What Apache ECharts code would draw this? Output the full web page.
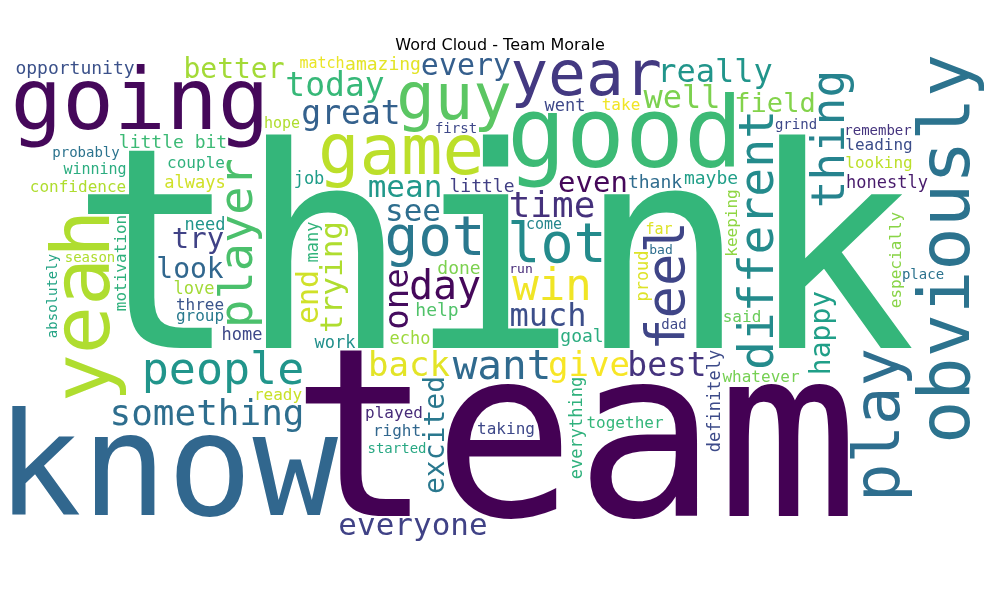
<!DOCTYPE html>
<html>
<head>
<meta charset="utf-8">
<script src="https://cdn.jsdelivr.net/npm/echarts@6/dist/echarts.min.js"></script>
<style>
  html, body { margin: 0; padding: 0; background: #fff; }
  #chart { width: 1000px; height: 600px; }
</style>
</head>
<body>
<div id="chart"></div>
<script>
// words and their relative weight (largest = 100)
const words = [
  'think', 'team', 'know', 'good', 'going', 'yeah', 'obviously', 'game', 'guy', 'play',
  'year', 'got', 'lot', 'feel', 'different', 'player', 'thing', 'people', 'win', 'want',
  'day', 'something', 'time', 'one', 'back', 'give', 'great', 'best', 'today', 'much',
  'really', 'well', 'everyone', 'trying', 'mean', 'see', 'every', 'end', 'try', 'even',
  'excited', 'look', 'better', 'happy', 'field', 'opportunity', 'little', 'help', 'thank', 'done',
  'maybe', 'amazing', 'goal', 'little bit', 'always', 'everything', 'definitely', 'echo', 'work', 'need',
  'job', 'home', 'love', 'honestly', 'went', 'proud', 'many', 'especially', 'three', 'whatever',
  'keeping', 'confidence', 'couple', 'played', 'said', 'motivation', 'together', 'taking', 'looking', 'leading',
  'take', 'group', 'ready', 'right', 'winning', 'hope', 'match', 'come', 'far', 'grind',
  'first', 'started', 'place', 'dad', 'probably', 'season', 'absolutely', 'remember', 'run', 'bad'
];
const scores = [
  100, 84, 50.5, 35, 34, 28.5, 25.6, 24.6, 22.8, 22.8,
  22.4, 20, 19.6, 19.2, 17.1, 16.7, 16.4, 16, 15.7, 14.6,
  14.2, 13.7, 12.8, 12.1, 12.1, 12.1, 11.7, 11.7, 11.7, 11.4,
  11.4, 11.4, 11, 11, 11, 11, 10.7, 10.7, 10.3, 10.3,
  10, 10, 10, 10, 9.6, 6.4, 6.4, 6.4, 6.4, 6.4,
  6.4, 6.4, 6.3, 6.3, 6.2, 6.2, 6.2, 6, 6, 6,
  6, 5.9, 5.9, 5.9, 5.9, 5.9, 5.9, 5.8, 5.7, 5.7,
  5.7, 5.7, 5.7, 5.7, 5.7, 5.7, 5.6, 5.6, 5.6, 5.6,
  5.6, 5.6, 5.6, 5.6, 5.3, 5.3, 5.3, 5.2, 5.2, 5.1,
  5.1, 5, 5, 5, 5, 5, 5, 4.9, 4.8, 4.8
];

// style: colour position on viridis for each word, and which words run vertically
const tones = [
  0.66, 0.0, 0.33, 0.68, 0.02, 0.88, 0.38, 0.9, 0.74, 0.36,
  0.17, 0.4, 0.48, 0.21, 0.48, 0.71, 0.45, 0.52, 0.98, 0.34,
  0.02, 0.36, 0.14, 0.03, 0.96, 0.99, 0.31, 0.15, 0.67, 0.24,
  0.52, 0.8, 0.2, 0.88, 0.53, 0.36, 0.3, 0.93, 0.2, 0.02,
  0.4, 0.33, 0.86, 0.56, 0.81, 0.25, 0.19, 0.72, 0.35, 0.8,
  0.56, 0.96, 0.62, 0.68, 0.93, 0.64, 0.23, 0.85, 0.5, 0.52,
  0.55, 0.22, 0.86, 0.07, 0.22, 0.95, 0.65, 0.82, 0.26, 0.79,
  0.83, 0.88, 0.64, 0.12, 0.77, 0.64, 0.66, 0.22, 0.9, 0.24,
  0.98, 0.41, 0.92, 0.33, 0.62, 0.88, 0.97, 0.46, 0.95, 0.22,
  0.22, 0.6, 0.38, 0.22, 0.38, 0.88, 0.58, 0.15, 0.12, 0.36
];
const verticalWords = ['yeah', 'play', 'feel', 'player', 'thing', 'people', 'one', 'trying', 'end',
  'excited', 'happy', 'everything', 'definitely', 'proud', 'many', 'especially', 'keeping',
  'motivation', 'absolutely'];

const VIRIDIS = ['#440154', '#482878', '#3e4989', '#31688e', '#26828e',
  '#1f9e89', '#35b779', '#6ece58', '#b5de2b', '#fde725'];
function viridis(t) {
  const s = Math.max(0, Math.min(1, t)) * (VIRIDIS.length - 1);
  const i = Math.min(Math.floor(s), VIRIDIS.length - 2);
  const f = s - i;
  const a = VIRIDIS[i], b = VIRIDIS[i + 1];
  let out = '#';
  for (let k = 1; k < 7; k += 2) {
    const va = parseInt(a.substr(k, 2), 16), vb = parseInt(b.substr(k, 2), 16);
    out += Math.round(va + (vb - va) * f).toString(16).padStart(2, '0');
  }
  return out;
}

// ---- layout (greedy, pixel occupancy, nearest to a focus point) ----
const W = 976, H = 488, MARGIN = 2, STEP = 2, SIZE_SCALE = 2.81, LOOKAHEAD = 3;
const FOCUS_X = 0.5 * W, FOCUS_Y = 0.38 * H;
const FONT = '"DejaVu Sans Mono"';
const occ = new Uint8Array(W * H);
const integ = new Int32Array((W + 1) * (H + 1));

function rebuild() {
  for (let y = 0; y < H; y++) {
    let row = 0;
    const o = y * W, a = (y + 1) * (W + 1), b = y * (W + 1);
    for (let x = 0; x < W; x++) {
      row += occ[o + x];
      integ[a + x + 1] = integ[b + x + 1] + row;
    }
  }
}
function sumRect(x0, y0, x1, y1) {
  if (x0 < 0) x0 = 0; if (y0 < 0) y0 = 0;
  if (x1 > W) x1 = W; if (y1 > H) y1 = H;
  const w1 = W + 1;
  return integ[y1 * w1 + x1] - integ[y0 * w1 + x1] - integ[y1 * w1 + x0] + integ[y0 * w1 + x0];
}

const maskCache = {};
function makeMask(text, fs, vertical) {
  const key = text + '|' + fs + '|' + vertical;
  if (maskCache[key]) return maskCache[key];
  const len = Math.ceil(fs * 0.7 * text.length + fs * 0.6) + 8;
  const thick = Math.ceil(fs * 1.5) + 8;
  const cw = vertical ? thick : len, ch = vertical ? len : thick;
  const c = document.createElement('canvas');
  c.width = cw; c.height = ch;
  const ctx = c.getContext('2d', { willReadFrequently: true });
  const ox = Math.floor(cw / 2), oy = Math.floor(ch / 2);
  ctx.translate(ox, oy);
  if (vertical) ctx.rotate(-Math.PI / 2);
  ctx.font = fs + 'px ' + FONT;
  ctx.textAlign = 'center';
  ctx.textBaseline = 'middle';
  ctx.fillStyle = '#000';
  ctx.fillText(text, 0, 0);
  const d = ctx.getImageData(0, 0, cw, ch).data;
  let x0 = cw, y0 = ch, x1 = -1, y1 = -1;
  for (let y = 0; y < ch; y++) {
    for (let x = 0; x < cw; x++) {
      if (d[(y * cw + x) * 4 + 3] > 0) {
        if (x < x0) x0 = x; if (x > x1) x1 = x;
        if (y < y0) y0 = y; if (y > y1) y1 = y;
      }
    }
  }
  const w = x1 - x0 + 1, h = y1 - y0 + 1;
  const bits = new Uint8Array(w * h);
  const li = new Int32Array((w + 1) * (h + 1));
  for (let y = 0; y < h; y++) {
    let row = 0;
    for (let x = 0; x < w; x++) {
      const v = d[((y + y0) * cw + x + x0) * 4 + 3] > 0 ? 1 : 0;
      bits[y * w + x] = v;
      row += v;
      li[(y + 1) * (w + 1) + x + 1] = li[y * (w + 1) + x + 1] + row;
    }
  }
  const m = { w, h, bits, li, ax: ox - x0, ay: oy - y0, fs, vertical };
  maskCache[key] = m;
  return m;
}

function fits(m, x, y) {
  return sumRect(x - MARGIN, y - MARGIN, x + m.w + MARGIN, y + m.h + MARGIN) === 0;
}
function freeList(m) {
  const out = [];
  for (let y = 0; y + m.h <= H; y += STEP) {
    for (let x = W - m.w; x >= 0; x -= STEP) {
      if (fits(m, x, y)) out.push(x, y);
    }
  }
  return out;
}
// does placing m at (px,py) still leave a spot for a following word?
function leavesRoom(m, px, py, nm, nFree) {
  const w1 = m.w + 1;
  for (let k = 0; k < nFree.length; k += 2) {
    const qx = nFree[k], qy = nFree[k + 1];
    let ix0 = Math.max(qx - MARGIN, px), iy0 = Math.max(qy - MARGIN, py);
    let ix1 = Math.min(qx + nm.w + MARGIN, px + m.w), iy1 = Math.min(qy + nm.h + MARGIN, py + m.h);
    if (ix0 >= ix1 || iy0 >= iy1) return true;
    ix0 -= px; ix1 -= px; iy0 -= py; iy1 -= py;
    const s = m.li[iy1 * w1 + ix1] - m.li[iy0 * w1 + ix1] - m.li[iy1 * w1 + ix0] + m.li[iy0 * w1 + ix0];
    if (s === 0) return true;
  }
  return false;
}
function place(m, nextMasks) {
  const free = freeList(m);
  const n = free.length / 2;
  if (!n) return null;
  const cost = new Float64Array(n);
  let best = 0;
  for (let i = 0; i < n; i++) {
    const dx = free[2 * i] + m.w / 2 - FOCUS_X;
    const dy = free[2 * i + 1] + m.h / 2 - FOCUS_Y;
    cost[i] = dx * dx + 4 * dy * dy;
    if (cost[i] < cost[best]) best = i;
  }
  const pick = i => [free[2 * i], free[2 * i + 1]];
  const checks = nextMasks.map(nm => ({ nm, nFree: freeList(nm) })).filter(c => c.nFree.length);
  if (!checks.length) return pick(best);
  const ok = i => checks.every(c => leavesRoom(m, free[2 * i], free[2 * i + 1], c.nm, c.nFree));
  if (ok(best)) return pick(best);
  const order = Array.from({ length: n }, (_, i) => i).sort((a, b) => cost[a] - cost[b]);
  const per = checks.reduce((s, c) => s + c.nFree.length / 2, 0);
  let budget = 3e8;
  for (const i of order) {
    if (ok(i)) return pick(i);
    budget -= per;
    if (budget < 0) break;
  }
  return pick(best);
}
function stamp(m, px, py) {
  for (let y = 0; y < m.h; y++) {
    for (let x = 0; x < m.w; x++) {
      if (m.bits[y * m.w + x]) occ[(py + y) * W + px + x] = 1;
    }
  }
  rebuild();
}

const placed = [];
const byWeight = words.map((w, i) => i).sort((a, b) => scores[b] - scores[a]);
for (let k = 0; k < byWeight.length; k++) {
  const i = byWeight[k];
  const vert = verticalWords.includes(words[i]);
  const nextMasks = byWeight.slice(k + 1, k + 1 + LOOKAHEAD).map(j =>
    makeMask(words[j], Math.round(scores[j] * SIZE_SCALE), verticalWords.includes(words[j])));
  let fs = Math.round(scores[i] * SIZE_SCALE);
  let result = null;
  while (fs >= 8 && !result) {
    for (const v of [vert, !vert]) {
      const m = makeMask(words[i], fs, v);
      const p = place(m, nextMasks);
      if (p) { result = { m, p }; break; }
    }
    if (!result) fs -= 2;
  }
  if (!result) continue;
  const { m, p } = result;
  stamp(m, p[0], p[1]);
  placed.push([p[0] + m.ax, p[1] + m.ay, m.fs, m.vertical ? 1 : 0, i]);
}

// ---- chart ----
const chart = echarts.init(document.getElementById('chart'));
chart.setOption({
  animation: false,
  backgroundColor: '#ffffff',
  title: {
    text: 'Word Cloud - Team Morale',
    left: 'center',
    top: 33,
    textStyle: { fontFamily: 'DejaVu Sans', fontSize: 16, fontWeight: 'normal', color: '#000000' }
  },
  grid: { left: 12, top: 56, width: W, height: H },
  xAxis: { type: 'value', min: 0, max: W, show: false },
  yAxis: { type: 'value', min: 0, max: H, inverse: true, show: false },
  series: [{
    type: 'custom',
    silent: true,
    data: placed,
    renderItem: function (params, api) {
      const pt = api.coord([api.value(0), api.value(1)]);
      const idx = api.value(4);
      return {
        type: 'text',
        x: pt[0],
        y: pt[1],
        rotation: api.value(3) ? Math.PI / 2 : 0,
        style: {
          text: words[idx],
          font: api.value(2) + 'px ' + FONT,
          fill: viridis(tones[idx]),
          align: 'center',
          verticalAlign: 'middle'
        }
      };
    }
  }]
});
</script>
</body>
</html>
